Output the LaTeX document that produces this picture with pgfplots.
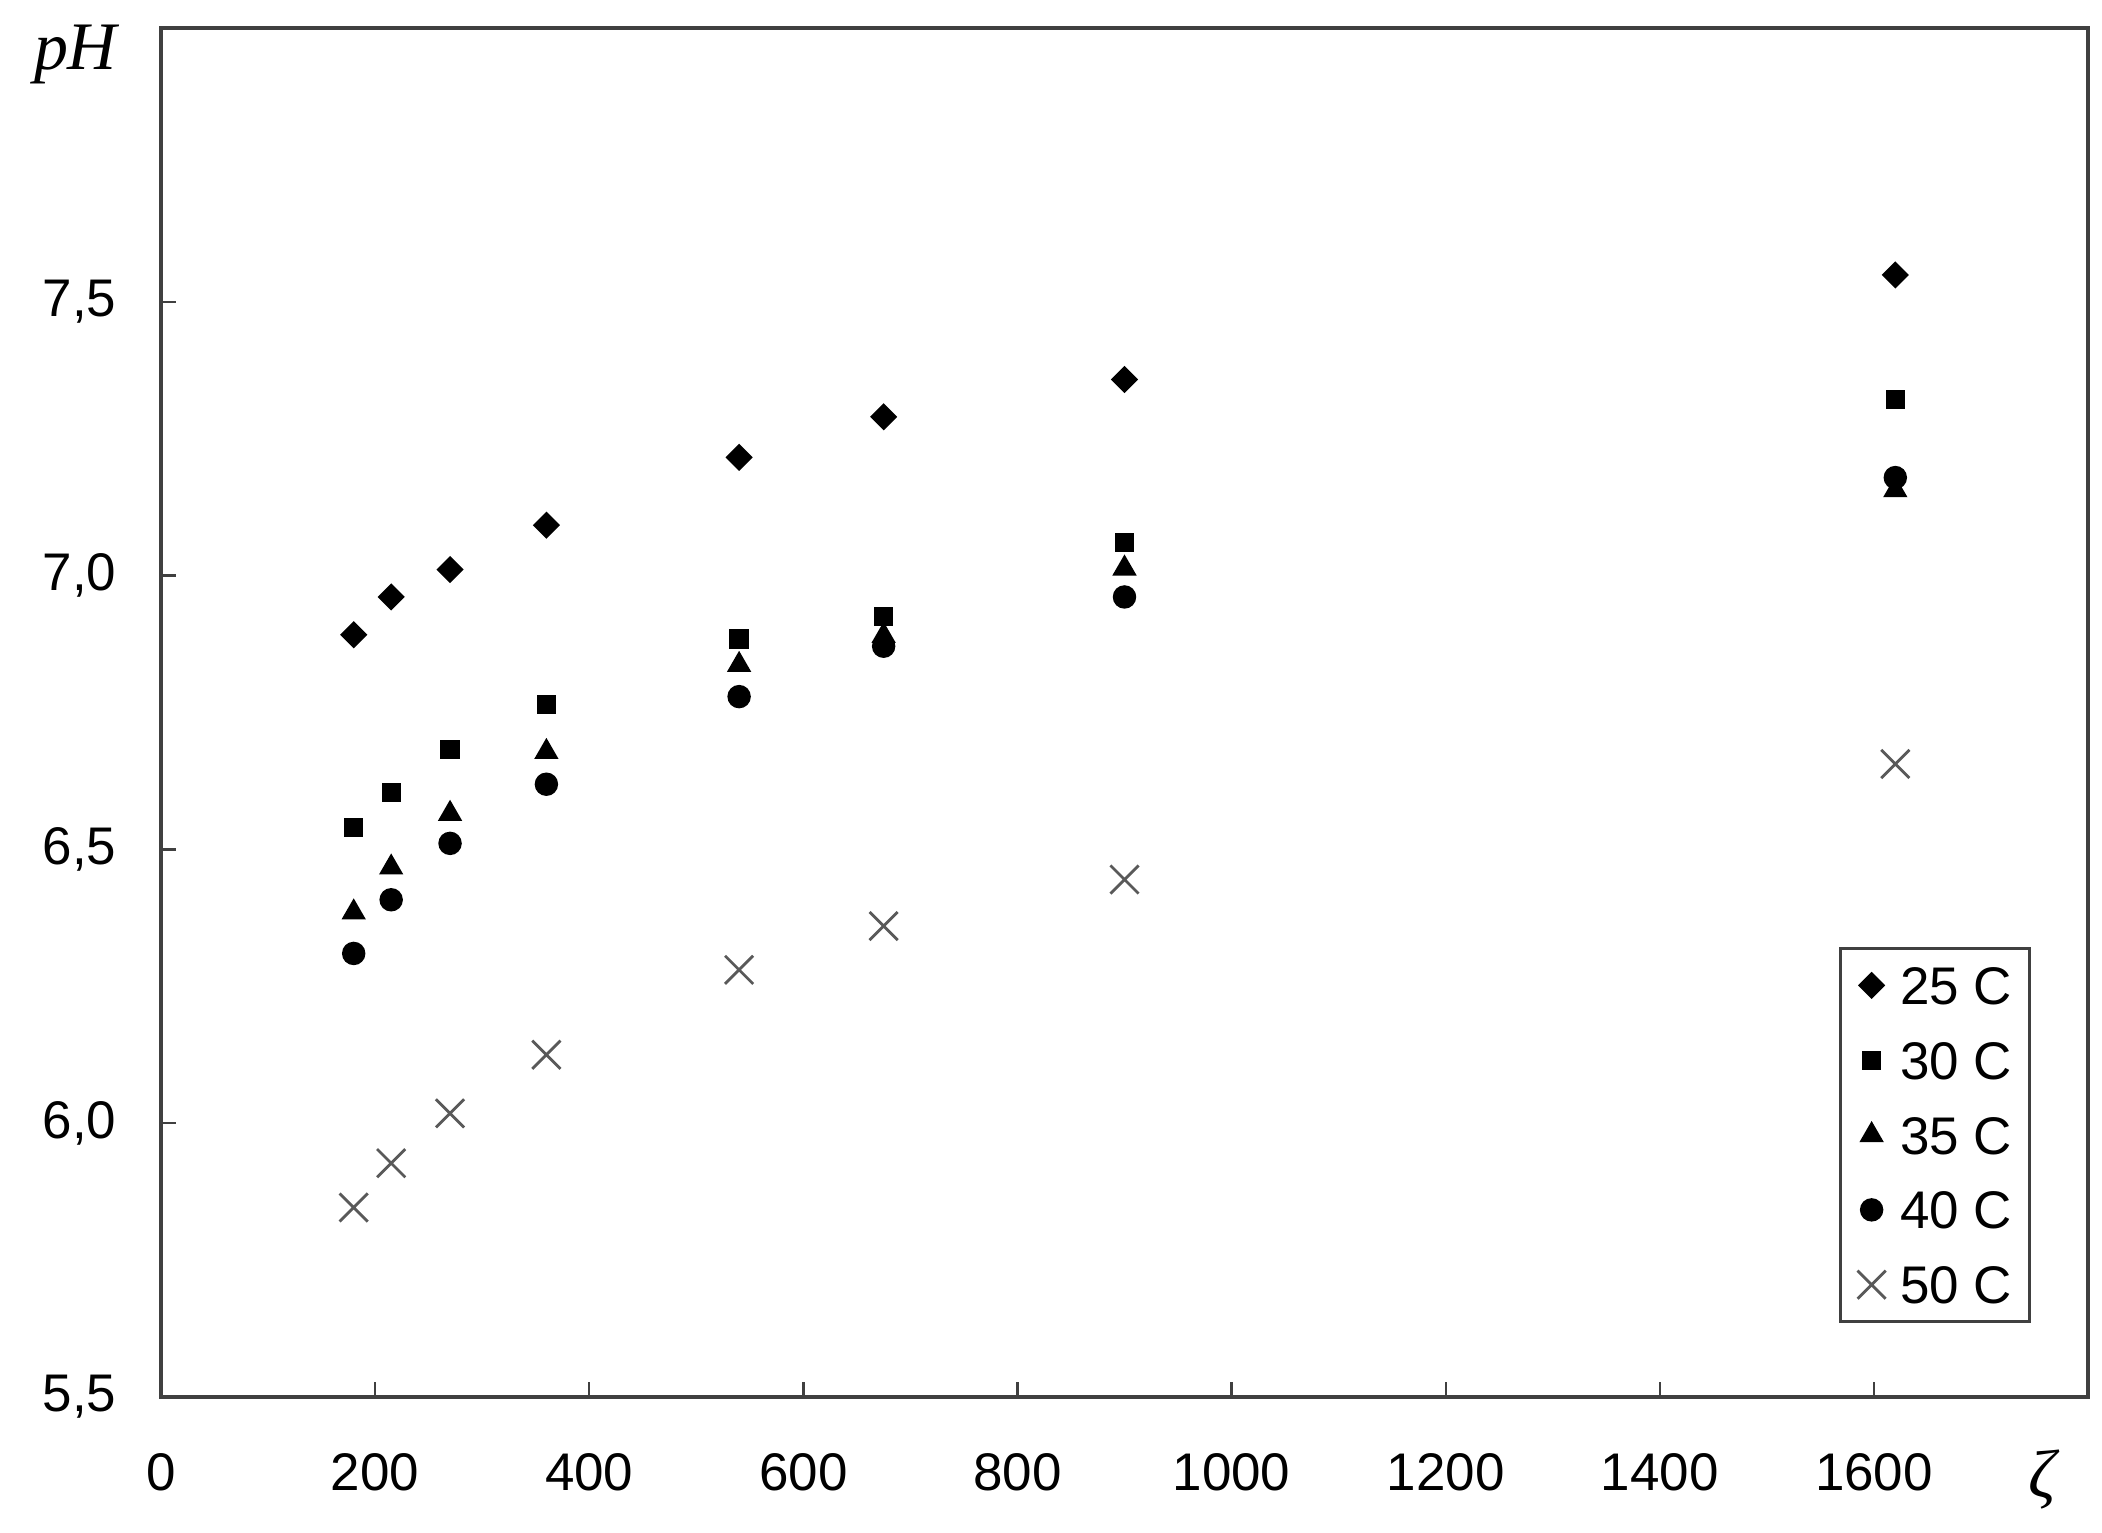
\documentclass[border=0pt]{standalone}
\usepackage{fontspec}
\setmainfont{Liberation Sans}
\newfontfamily\timesfont{Liberation Serif}
\usepackage{pgfplots}
\pgfplotsset{compat=1.18}

\begin{document}
\begin{tikzpicture}
\begin{axis}[
    at={(0,0)}, anchor=south west,
    scale only axis,
    width=14.4525cm, height=10.2675cm,
    xmin=0, xmax=1800,
    ymin=5.5, ymax=8.0,
    clip=false,
    xtick={0,200,...,1600},
    ytick={5.5,6.0,6.5,7.0,7.5},
    xtick pos=bottom, ytick pos=left,
    tick align=inside,
    major tick length=3.2pt,
    axis line style={black!75, line width=0.85pt},
    tick style={black!75, line width=0.5pt},
    ticklabel style={font=\fontsize{11.3}{13}\selectfont},
    /pgf/number format/assume math mode=true,
    xticklabel style={/pgf/number format/1000 sep={}},
    yticklabel style={/pgf/number format/.cd, use comma, fixed, fixed zerofill, precision=1},
    xticklabel shift=8.5pt,
    yticklabel shift=6pt,
    legend style={
        at={(rel axis cs:0.9704,0.054)}, anchor=south east,
        draw=black!75, line width=0.6pt,
        inner xsep=0.13cm, inner ysep=0.135cm,
        row sep=0.2765cm, column sep=0.11cm,
        font=\fontsize{11.3}{13}\selectfont,
        nodes={inner sep=0pt, text height=8.1pt, text depth=0pt},
    },
    legend cell align=left,
    legend image code/.code={\draw[mark repeat=2,mark phase=2] plot coordinates {(0cm,0cm)(0.13cm,0cm)(0.26cm,0cm)};},
]
% 25 C
\addplot[only marks, mark=square*, mark size=1.85pt, mark options={rotate=45, draw=black, fill=black, line width=0.4pt}] coordinates {
    (180,6.892) (215,6.961) (270,7.011) (360,7.092)
    (540,7.216) (675,7.290) (900,7.358) (1620,7.549)
};
% 30 C
\addplot[only marks, mark=square*, mark size=1.86pt, mark options={draw=black, fill=black, line width=0.4pt}] coordinates {
    (180,6.540) (215,6.604) (270,6.683) (360,6.764)
    (540,6.884) (675,6.925) (900,7.060) (1620,7.321)
};
% 35 C
\addplot[only marks, mark=triangle*, mark size=2.6pt, mark options={draw=black, fill=black, line width=0.4pt}] coordinates {
    (180,6.385) (215,6.467) (270,6.565) (360,6.678)
    (540,6.837) (675,6.890) (900,7.013) (1620,7.156)
};
% 40 C
\addplot[only marks, mark=*, mark size=2.3pt, mark options={draw=black, fill=black, line width=0.4pt}] coordinates {
    (180,6.310) (215,6.408) (270,6.511) (360,6.619)
    (540,6.779) (675,6.871) (900,6.961) (1620,7.179)
};
% 50 C
\addplot[only marks, mark=x, mark size=4.25pt, mark options={draw=black!65, line width=0.6pt}] coordinates {
    (180,5.846) (215,5.927) (270,6.018) (360,6.125)
    (540,6.280) (675,6.360) (900,6.445) (1620,6.656)
};
\legend{25 C, 30 C, 35 C, 40 C, 50 C}
\node[anchor=base east, inner sep=0pt, font=\timesfont\itshape\fontsize{14.5}{17}\selectfont]
    at ([xshift=-0.3225cm, yshift=-0.31cm]rel axis cs:0,1) {pH};
\node[anchor=center, inner sep=0pt, font=\timesfont\itshape\fontsize{14.5}{17}\selectfont]
    at ([xshift=14.1075cm, yshift=-0.6225cm]rel axis cs:0,0) {ζ};
\end{axis}
\pgfresetboundingbox
\useasboundingbox (-1.2075cm,-1.0125cm) rectangle (14.5575cm,10.4775cm);
\end{tikzpicture}
\end{document}
